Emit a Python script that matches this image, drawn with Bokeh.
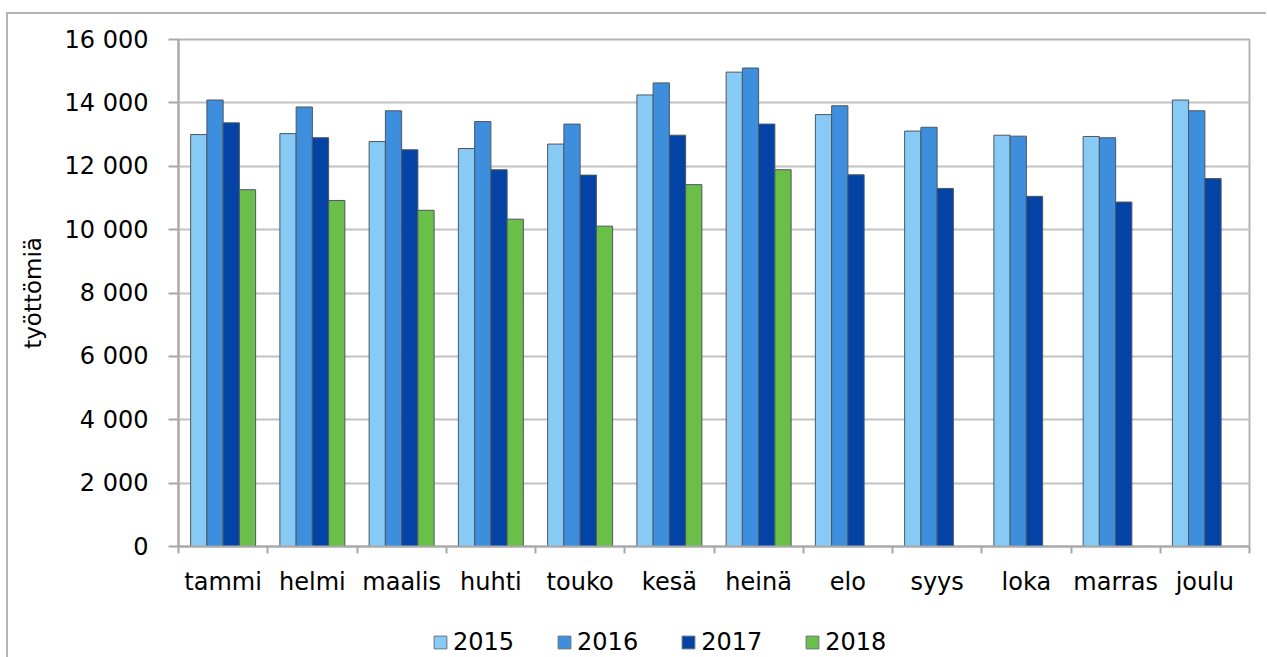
from bokeh.plotting import figure
from bokeh.layouts import column
from bokeh.models import (ColumnDataSource, FixedTicker, Legend, LegendItem, Range1d)
from bokeh.embed import file_html
from bokeh.resources import INLINE

months = ["tammi", "helmi", "maalis", "huhti", "touko", "kesä", "heinä",
          "elo", "syys", "loka", "marras", "joulu"]
years = ["2015", "2016", "2017", "2018"]
v2015 = [13000, 13030, 12780, 12560, 12700, 14250, 14970, 13630, 13110, 12980, 12940, 14090]
v2016 = [14090, 13870, 13750, 13410, 13330, 14630, 15100, 13910, 13230, 12950, 12900, 13750]
v2017 = [13370, 12900, 12520, 11890, 11720, 12980, 13330, 11730, 11300, 11050, 10870, 11610]
v2018 = [11260, 10920, 10610, 10330, 10110, 11420, 11890]
y_ticks = [0, 2000, 4000, 6000, 8000, 10000, 12000, 14000, 16000]
y_tick_labels = ["0", "2 000", "4 000", "6 000", "8 000", "10 000", "12 000", "14 000", "16 000"]
colors = ["#86CAF5", "#3D8EDD", "#0343A5", "#6ABF48"]
series = [v2015, v2016, v2017, v2018]

FONT = "DejaVu Sans"
OUTLINE = "#4d565f"

p = figure(frame_width=1071, frame_height=507, output_backend="svg", toolbar_location=None,
           x_range=Range1d(0, 12), y_range=Range1d(0, 16000),
           min_border_left=170, min_border_right=17, min_border_top=25, min_border_bottom=80)

bw = 0.182
for k, (yr, vals, col) in enumerate(zip(years, series, colors)):
    xs = [i + 0.5 + (k - 1.5) * bw for i in range(len(vals))]
    src = ColumnDataSource(dict(x=xs, top=vals))
    p.vbar(x="x", top="top", width=bw, bottom=0, source=src, fill_color=col,
           line_color=OUTLINE, line_width=1)

p.xaxis.ticker = FixedTicker(ticks=[i + 0.5 for i in range(12)],
                             minor_ticks=list(range(13)))
p.xaxis.major_label_overrides = {i + 0.5: m for i, m in enumerate(months)}
p.xaxis.major_tick_out = 0
p.xaxis.major_tick_in = 0
p.xaxis.minor_tick_out = 7
p.xaxis.minor_tick_in = 0
p.xaxis.minor_tick_line_color = "#a8a8a8"
p.xaxis.minor_tick_line_width = 2
p.xaxis.major_label_standoff = 14
p.xaxis.major_label_text_font = FONT
p.xaxis.major_label_text_font_size = "24px"
p.xaxis.major_label_text_color = "#000000"
p.xaxis.axis_line_color = "#a8a8a8"
p.xaxis.axis_line_width = 2
p.xgrid.grid_line_color = None

p.yaxis.ticker = FixedTicker(ticks=y_ticks, minor_ticks=[])
p.yaxis.major_label_overrides = {t: l for t, l in zip(y_ticks, y_tick_labels)}
p.yaxis.major_tick_out = 10
p.yaxis.major_tick_in = 0
p.yaxis.major_tick_line_color = "#a8a8a8"
p.yaxis.major_tick_line_width = 2
p.yaxis.minor_tick_line_color = None
p.yaxis.major_label_standoff = 20
p.yaxis.major_label_text_font = FONT
p.yaxis.major_label_text_font_size = "24px"
p.yaxis.major_label_text_color = "#000000"
p.yaxis.axis_line_color = "#a8a8a8"
p.yaxis.axis_line_width = 2
p.yaxis.axis_label = "työttömiä"
p.yaxis.axis_label_text_font = FONT
p.yaxis.axis_label_text_font_size = "23px"
p.yaxis.axis_label_text_font_style = "normal"
p.yaxis.axis_label_text_color = "#000000"
p.yaxis.axis_label_standoff = 16
p.ygrid.grid_line_color = "#c2c2c2"
p.ygrid.grid_line_width = 2

p.outline_line_color = "#b4b4b4"
p.outline_line_width = 2

# legend strip below the chart (its frame is aligned with the chart's frame)
lf = figure(width=1258, height=31, output_backend="svg", toolbar_location=None,
            x_range=Range1d(0, 1), y_range=Range1d(0, 1),
            x_axis_location=None, y_axis_location=None, min_border=0)
lf.grid.visible = False
lf.outline_line_color = None
proxies = []
for yr, col in zip(years, colors):
    # tiny proxy bar hidden behind the opaque legend box; only supplies the swatch style
    r = lf.vbar(x=[0.45], top=[0.6], bottom=0.4, width=0.005, fill_color=col,
                line_color="#6a737c", line_width=1)
    proxies.append(r)

legend = Legend(items=[LegendItem(label=y, renderers=[r]) for y, r in zip(years, proxies)],
                orientation="horizontal", location=(254, 1),
                label_text_font=FONT, label_text_font_size="24px", label_text_color="#000000",
                glyph_width=16, glyph_height=16, label_standoff=5, spacing=42,
                border_line_color=None, background_fill_color="#ffffff",
                background_fill_alpha=1.0, padding=0, margin=0)
lf.add_layout(legend, "center")

layout = column(p, lf, spacing=0)
layout.styles = {"border-left": "2px solid #b4b4b4", "border-top": "2px solid #b4b4b4",
                 "margin-top": "12px", "margin-left": "6px"}

open("out.html", "w").write(file_html(layout, INLINE))
